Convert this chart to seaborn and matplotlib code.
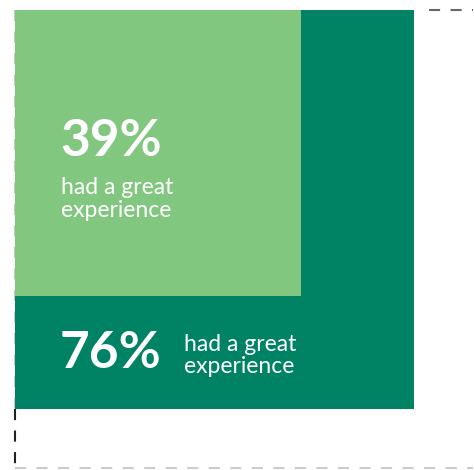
import numpy as np
import pandas as pd
import seaborn as sns
import matplotlib
matplotlib.use("Agg")
import matplotlib.pyplot as plt
from matplotlib.patches import Rectangle

sns.set_theme(style="white")
plt.rcParams['font.family'] = ['Lato', 'DejaVu Sans']
plt.rcParams['lines.scale_dashes'] = False

# data
labels = ["76%", "39%"]
values = [76, 39]
total = 100
captions = ["had a great\nexperience", "had a great\nexperience"]
colors = ["#008265", "#82C77F"]

W, H = 474, 470
fig = plt.figure(figsize=(W / 100, H / 100), dpi=100)
ax = fig.add_axes([15 / W, 2 / H, 458 / W, 458 / H])
side_total = np.sqrt(total)
ax.set_xlim(0, side_total)
ax.set_ylim(side_total, 0)
ax.axis("off")

s_big = np.sqrt(values[0])

# outer dashed frame (100%)
dash = dict(linewidth=1.5, linestyle=(0, (8, 7.5)), clip_on=False, zorder=1)
ax.plot([side_total * 0.905, side_total], [0, 0], color="#666666", **dash)
ax.plot([0, 0], [0, s_big], color="#c8c8c8", **dash)
ax.plot([0, 0], [s_big, side_total], color="#222222", **dash)
ax.plot([0, side_total], [side_total, side_total], color="#cccccc", **dash)

for v, c in zip(values, colors):
    s = np.sqrt(v)
    ax.add_patch(Rectangle((0, 0), s, s, facecolor=c, edgecolor="none", zorder=2))

# labels
px = side_total / 458.0
# 39% inside light square
ax.text(45 * px, 146 * px, labels[1], color="white", fontsize=37, fontweight="bold",
        ha="left", va="baseline", zorder=3)
ax.text(46 * px, 207 * px, captions[1], color="white", fontsize=16.5,
        ha="left", va="baseline", linespacing=1.12, zorder=3)
# 76% in dark band
ax.text(45 * px, 358 * px, labels[0], color="white", fontsize=37, fontweight="bold",
        ha="left", va="baseline", zorder=3)
ax.text(169 * px, 363 * px, captions[0], color="white", fontsize=16.5,
        ha="left", va="baseline", linespacing=1.05, zorder=3)

fig.savefig("out.png", dpi=100)
